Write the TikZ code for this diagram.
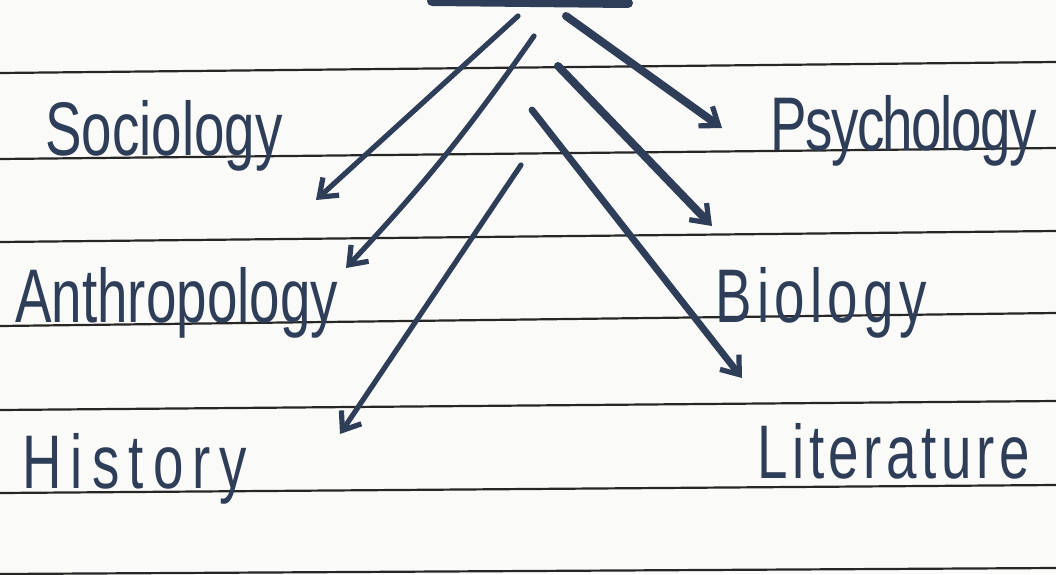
\documentclass[tikz,border=0pt]{standalone}
\usepackage{fontspec}
\newfontfamily\handfont[FakeStretch=0.72]{Liberation Sans}
\usetikzlibrary{arrows.meta}
\definecolor{ink}{HTML}{2E3D58}
\definecolor{paper}{HTML}{FAFAF8}

\begin{document}
\begin{tikzpicture}[
    x=0.5pt, y=-0.5pt,
    word/.style={text=ink, font=\handfont\fontsize{38}{40}\selectfont, inner sep=0pt, anchor=base west},
    branch/.style={draw=ink, line width=2.6pt, line cap=round, -{Straight Barb[length=8pt, width=12pt, line width=2.6pt]}},
    heavy/.style={branch, line width=4pt},
    rule/.style={draw=black!85, line width=1.1pt}
]
\fill[paper] (0,0) rectangle (1056,574);
\useasboundingbox (0,0) rectangle (1056,574);
% ruled lines of the page
\foreach \yl/\yr in {73/62, 159/148, 242/231, 326/313, 410/401, 493/485, 574/568}
  \draw[rule] (0,\yl) -- (1056,\yr);
% underline of the cut-off heading
\draw[ink, line width=5pt, line cap=round] (432,1) -- (628,3);

\node[word] (soc) at (45,155) {Sociology};
\node[word] (anth) at (15,322) {Anthropology};
\node[word] (hist) at (22,488) {\addfontfeature{LetterSpace=12}History};
\node[word] (psy) at (770,150) {\addfontfeature{LetterSpace=-2}Psychology};
\node[word] (bio) at (715,322) {\addfontfeature{LetterSpace=7}Biology};
\node[word] (lit) at (757,478) {\addfontfeature{LetterSpace=6}Literature};

\coordinate (s1) at (518,16);
\coordinate (s2) at (534,36);
\coordinate (s3) at (521,165);
\coordinate (s4) at (566,16);
\coordinate (s5) at (558,66);
\coordinate (s6) at (532,110);
\coordinate (e1) at (316,200);
\coordinate (e2) at (346,268);
\coordinate (e3) at (340,434);
\coordinate (e4) at (722,128);
\coordinate (e5) at (712,226);
\coordinate (e6) at (742,378);

\draw[branch] (s1) -- (e1);
\draw[branch] (s2) to[bend left=4] (e2);
\draw[branch] (s3) -- (e3);
\draw[heavy] (s4) -- (e4);
\draw[heavy] (s5) -- (e5);
\draw[branch, line width=3.4pt] (s6) -- (e6);
\end{tikzpicture}
\end{document}
